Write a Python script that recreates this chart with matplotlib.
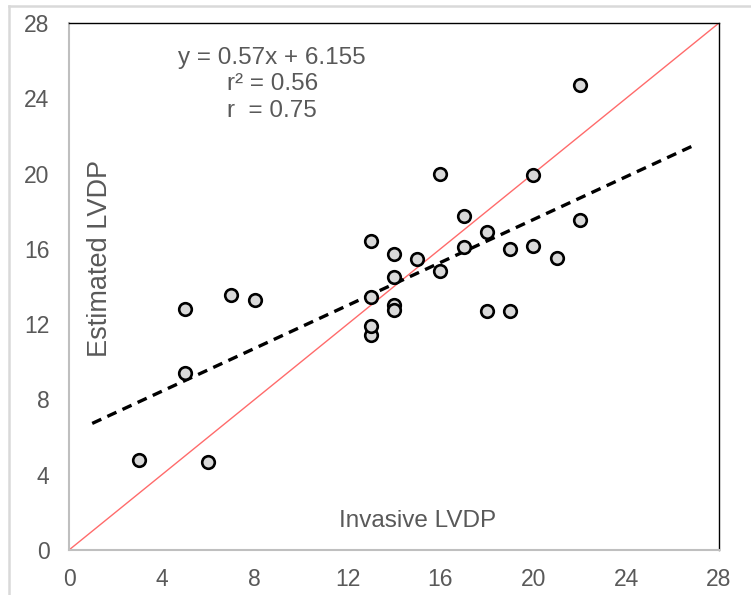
import matplotlib
matplotlib.use("Agg")
import matplotlib.pyplot as plt
from matplotlib.lines import Line2D

plt.rcParams['font.family'] = ['Liberation Sans', 'DejaVu Sans']

invasive = [3, 6, 5, 5, 7, 8, 13, 13, 13, 13, 14, 14, 14, 14, 15, 16, 16, 17, 17,
            18, 18, 19, 19, 20, 20, 21, 22, 22]
estimated = [4.8, 4.7, 9.4, 12.8, 13.55, 13.3, 11.4, 11.9, 13.45, 16.4, 13.0, 12.75,
             14.5, 15.75, 15.45, 14.8, 20.0, 16.1, 17.75, 16.9, 12.7, 16.0, 12.7,
             19.9, 16.15, 15.5, 17.55, 24.7]
slope = 0.57
intercept = 6.155
fit_x = [1, 27]
ticks = [0, 4, 8, 12, 16, 20, 24, 28]
eq_lines = ["y = 0.57x + 6.155", "r² = 0.56", "r  = 0.75"]

gray_text = '#595959'
W, H = 751, 595
fig = plt.figure(figsize=(W / 100, H / 100), dpi=100)
ax = fig.add_axes([69 / W, 1 - 550 / H, 650 / W, 527 / H])

ax.plot([0, 28], [0, 28], color='#FF6B6B', lw=1.0, zorder=2)
ax.plot(fit_x, [slope * v + intercept for v in fit_x], color='black', lw=2.4,
        ls=(0, (3, 2)), zorder=3)
ax.scatter(invasive, estimated, s=82, facecolor='#D9D9D9', edgecolor='black',
           linewidth=1.9, zorder=4)

ax.set_xlim(0, 28)
ax.set_ylim(0, 28)
ax.set_xticks(ticks)
ax.set_yticks(ticks)
ax.tick_params(length=0, labelsize=16.5, labelcolor=gray_text)
ax.tick_params(axis='x', pad=13)
ax.tick_params(axis='y', pad=14)

for s in ['top', 'right']:
    ax.spines[s].set_color('black')
    ax.spines[s].set_linewidth(1.0)
for s in ['left', 'bottom']:
    ax.spines[s].set_color('#BFBFBF')
    ax.spines[s].set_linewidth(1.5)

ax.text(1.34, 15.5, 'Estimated LVDP', rotation=90, ha='center', va='center',
        fontsize=19.5, color=gray_text)
ax.text(15.0, 1.54, 'Invasive LVDP', ha='center', va='center',
        fontsize=17.5, color=gray_text)
for t, yy in zip(eq_lines, [26.15, 24.75, 23.3]):
    ax.text(8.75, yy, t, ha='center', va='center', fontsize=17.5, color=gray_text)

# outer chart border (left and top)
fig.add_artist(Line2D([9 / W, 9 / W], [0, 1 - 6 / H], transform=fig.transFigure,
                      color='#D9D9D9', lw=1.8))
fig.add_artist(Line2D([9 / W, 1], [1 - 6 / H, 1 - 6 / H], transform=fig.transFigure,
                      color='#D9D9D9', lw=1.8))

fig.savefig('out.png', dpi=100)
